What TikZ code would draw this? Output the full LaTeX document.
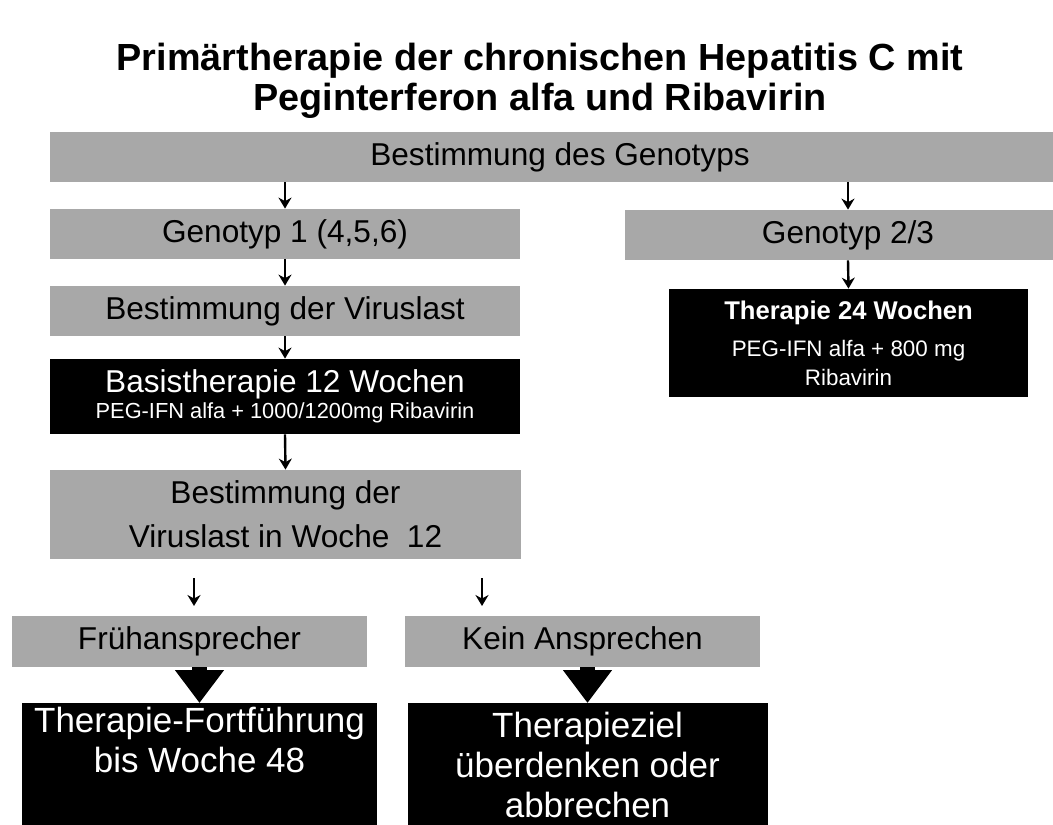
\documentclass[tikz,border=0pt]{standalone}
\usepackage{fontspec}
\setmainfont{Liberation Sans}
\usetikzlibrary{arrows.meta}
\definecolor{boxgray}{RGB}{168,168,168}
\tikzset{
  graybox/.style={fill=boxgray, inner sep=0pt, align=center, font=\fontsize{15.8}{22}\selectfont},
  blackbox/.style={fill=black, text=white, inner sep=0pt, align=center},
  thinarrow/.style={-{Stealth[length=5.5pt,width=6.5pt]}, line width=1.2pt},
  bigarrow/.style={-{Triangle[length=16.5pt,width=23.5pt]}, line width=7.5pt},
}
\begin{document}
\begin{tikzpicture}[x=0.5pt,y=-0.5pt, line join=round]
	\useasboundingbox (0,0) rectangle (1053,824);
	\clip (0,0) rectangle (1053,824);
	% Titel
	\node[font=\bfseries\fontsize{18.9}{20}\selectfont, align=center] (title) at (540,81)
		{Primärtherapie der chronischen Hepatitis C mit\\Peginterferon alfa und Ribavirin};
	% graue Kaesten
	\node[graybox, minimum width=510pt, minimum height=25pt] (top) at (560,157) {Bestimmung des Genotyps};
	\node[graybox, minimum width=235pt, minimum height=25pt] (gt1) at (285,234) {Genotyp 1 (4,5,6)};
	\node[graybox, minimum width=223pt, minimum height=25pt] (gt23) at (848,235) {Genotyp 2/3};
	\node[graybox, minimum width=235pt, minimum height=25pt] (vl) at (285,311) {Bestimmung der Viruslast};
	\node[graybox, minimum width=235.5pt, minimum height=44.5pt] (w12) at (285.5,514.5) {Bestimmung der\\Viruslast in Woche\ \ 12};
	\node[graybox, minimum width=177.5pt, minimum height=25.5pt] (frueh) at (189.5,641.5) {Frühansprecher};
	\node[graybox, minimum width=177.5pt, minimum height=25.5pt] (kein) at (582.5,641.5) {Kein Ansprechen};
	% schwarze Kaesten
	\node[blackbox, minimum width=235pt, minimum height=37.5pt] (basis) at (285,396.5)
		{{\fontsize{15.8}{17}\selectfont Basistherapie 12 Wochen}\\[1pt]
		 {\fontsize{10.9}{13}\selectfont PEG-IFN alfa + 1000/1200mg Ribavirin}};
	\node[blackbox, minimum width=179.5pt, minimum height=54pt, font=\fontsize{11.2}{14.5}\selectfont] (th24) at (848.5,343)
		{{\bfseries\fontsize{12.8}{14.5}\selectfont Therapie 24 Wochen}\\[4pt]
		 PEG-IFN alfa + 800 mg\\Ribavirin};
	\node[blackbox, anchor=north, minimum width=177.5pt, minimum height=62pt, font=\fontsize{17.5}{20}\selectfont] (fort) at (199.5,703)
		{Therapie-Fortführung\\bis Woche 48\\\strut};
	\node[blackbox, anchor=north, minimum width=180pt, minimum height=62pt, font=\fontsize{17.5}{20}\selectfont] (abbr) at (587.5,703)
		{Therapieziel\\überdenken oder\\abbrechen};
	% Pfeile
	\draw[thinarrow] (top.south -| gt1.north) -- (gt1.north);
	\draw[thinarrow] (top.south -| gt23.north) -- (gt23.north);
	\draw[thinarrow] (gt1.south) -- (vl.north);
	\draw[thinarrow] (vl.south) -- (basis.north);
	\draw[thinarrow] (gt23.south) -- (th24.north);
	\draw[thinarrow] (basis.south) -- (w12.north);
	\coordinate (f1) at (194,578); \coordinate (f2) at (194,606);
	\coordinate (k1) at (482,578); \coordinate (k2) at (482,606);
	\draw[thinarrow] (f1) -- (f2);
	\draw[thinarrow] (k1) -- (k2);
	\draw[bigarrow] (fort.north |- frueh.south) -- (fort.north);
	\draw[bigarrow] (abbr.north |- kein.south) -- (abbr.north);
\end{tikzpicture}
\end{document}
